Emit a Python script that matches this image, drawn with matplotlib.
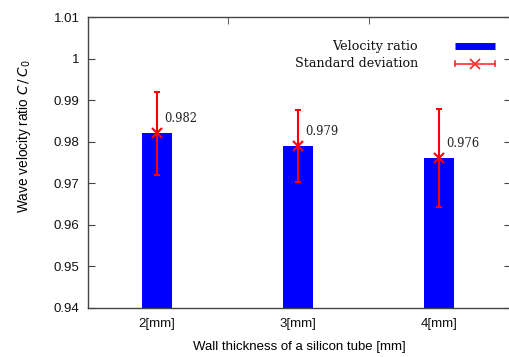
import matplotlib.pyplot as plt
import numpy as np

categories = ["2[mm]", "3[mm]", "4[mm]"]
ratio = [0.982, 0.979, 0.976]
std_dev = [0.0100, 0.0087, 0.0118]
ratio_labels = ["0.982", "0.979", "0.976"]
yticks = [0.94, 0.95, 0.96, 0.97, 0.98, 0.99, 1.00, 1.01]
ytick_labels = ["0.94", "0.95", "0.96", "0.97", "0.98", "0.99", "1", "1.01"]

plt.rcParams["font.family"] = "Liberation Sans"
plt.rcParams["mathtext.fontset"] = "dejavusans"

fig = plt.figure(figsize=(5.09, 3.57), dpi=100)
ax = fig.add_axes([88 / 509, 1 - 308 / 357, (511 - 88) / 509, (308 - 17) / 357])

x = np.arange(1, len(categories) + 1)
ax.bar(x, ratio, width=0.21, color="#0000ff", edgecolor="none", zorder=2)
ax.errorbar(x, ratio, yerr=std_dev, fmt="none", ecolor="#ff0000", elinewidth=1.5,
            capsize=2.5, capthick=1.5, zorder=3)
ax.plot(x, ratio, linestyle="none", marker="x", color="#ff0000", markersize=7,
        markeredgewidth=1.5, zorder=4)
for xi, v, lab in zip(x, ratio, ratio_labels):
    ax.text(xi + 0.05, v + 0.0035, lab, family="DejaVu Serif", fontsize=8.3,
            va="center", ha="left", color="#222222")

ax.set_xlim(0.51, 3.51)
ax.set_ylim(0.94, 1.01)
ax.set_yticks(yticks, ytick_labels)
ax.set_xticks(x, categories)
ax.tick_params(axis="y", direction="in", length=5, right=True, labelsize=9.5, pad=6)
ax.tick_params(axis="x", length=0, labelsize=9.5, pad=7)
ax.set_xticks([1, 1.5, 2, 2.5, 3], minor=True)
ax.tick_params(axis="x", which="minor", direction="in", top=True, bottom=False, length=5)
for s in ax.spines.values():
    s.set_color("#444444")
    s.set_linewidth(1.0)
ax.tick_params(colors="#444444", labelcolor="#111111", which="both")

ax.set_xlabel("Wall thickness of a silicon tube [mm]", fontsize=9.5, labelpad=8)
ax.set_ylabel("Wave velocity ratio $C\\,/\\,C_0$", fontsize=9.8)
ax.yaxis.set_label_coords(-0.13, 0.59)

# legend (gnuplot style: text right-aligned, sample on the right)
tr = ax.transAxes
ax.text(0.78, 0.9, "Velocity ratio", transform=tr, ha="right", va="center",
        family="DejaVu Serif", fontsize=9.2, color="#111111")
ax.text(0.78, 0.84, "Standard deviation", transform=tr, ha="right", va="center",
        family="DejaVu Serif", fontsize=9.2, color="#111111")
ax.plot([0.868, 0.962], [0.9, 0.9], transform=tr, color="#0000ff", linewidth=5,
        solid_capstyle="butt", clip_on=False)
ax.plot([0.868, 0.962], [0.84, 0.84], transform=tr, color="#ff3030", linewidth=1.2,
        clip_on=False)
ax.plot([0.915], [0.84], transform=tr, marker="x", color="#ff3030", markersize=7,
        markeredgewidth=1.3, clip_on=False)
for xe in (0.868, 0.962):
    ax.plot([xe, xe], [0.83, 0.85], transform=tr, color="#ff3030", linewidth=1.2,
            clip_on=False)

fig.savefig("out.png", dpi=100)
